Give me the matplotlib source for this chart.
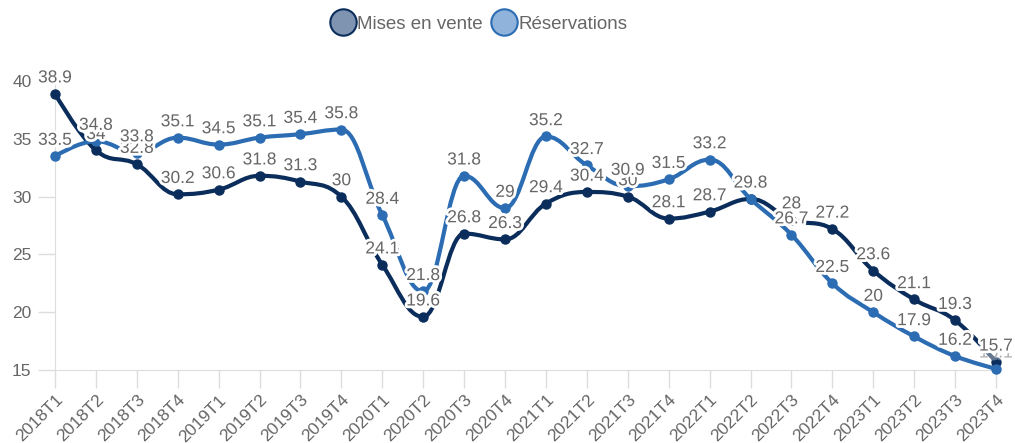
import matplotlib
matplotlib.use('Agg')
import matplotlib.pyplot as plt
import matplotlib.patheffects as pe
from matplotlib.path import Path
from matplotlib.patches import PathPatch
from matplotlib.lines import Line2D
import numpy as np

plt.rcParams['font.family'] = ['Liberation Sans', 'DejaVu Sans']

quarters = ['2018T1', '2018T2', '2018T3', '2018T4', '2019T1', '2019T2', '2019T3', '2019T4',
            '2020T1', '2020T2', '2020T3', '2020T4', '2021T1', '2021T2', '2021T3', '2021T4',
            '2022T1', '2022T2', '2022T3', '2022T4', '2023T1', '2023T2', '2023T3', '2023T4']
mises_en_vente = [38.9, 34, 32.8, 30.2, 30.6, 31.8, 31.3, 30, 24.1, 19.6, 26.8, 26.3,
                  29.4, 30.4, 30, 28.1, 28.7, 29.8, 28, 27.2, 23.6, 21.1, 19.3, 15.7]
reservations = [33.5, 34.8, 33.8, 35.1, 34.5, 35.1, 35.4, 35.8, 28.4, 21.8, 31.8, 29,
                35.2, 32.7, 30.9, 31.5, 33.2, 29.8, 26.7, 22.5, 20, 17.9, 16.2, 15.1]

NAVY = '#0b2d5b'
BLUE = '#2b6cb3'
GRAY = '#666666'


def spline_path(xs, ys, smoothing=1.5):
    # highcharts-like spline: bezier control points from neighbours
    n = len(xs)
    verts = [(xs[0], ys[0])]
    codes = [Path.MOVETO]
    ctrl = []
    for i in range(n):
        if i == 0 or i == n - 1:
            ctrl.append(None)
            continue
        px, py = xs[i], ys[i]
        lx, ly = xs[i - 1], ys[i - 1]
        nx, ny = xs[i + 1], ys[i + 1]
        d = smoothing + 1
        lcx = (smoothing * px + lx) / d
        lcy = (smoothing * py + ly) / d
        rcx = (smoothing * px + nx) / d
        rcy = (smoothing * py + ny) / d
        corr = ((rcy - lcy) * (rcx - px)) / (rcx - lcx) + py - rcy
        lcy += corr
        rcy += corr
        if lcy > ly and lcy > py:
            lcy = max(ly, py)
            rcy = 2 * py - lcy
        elif lcy < ly and lcy < py:
            lcy = min(ly, py)
            rcy = 2 * py - lcy
        if rcy > ny and rcy > py:
            rcy = max(ny, py)
            lcy = 2 * py - rcy
        elif rcy < ny and rcy < py:
            rcy = min(ny, py)
            lcy = 2 * py - rcy
        ctrl.append(((lcx, lcy), (rcx, rcy)))
    for i in range(1, n):
        c1 = ctrl[i - 1][1] if ctrl[i - 1] else (xs[i - 1], ys[i - 1])
        c2 = ctrl[i][0] if ctrl[i] else (xs[i], ys[i])
        verts += [c1, c2, (xs[i], ys[i])]
        codes += [Path.CURVE4] * 3
    return Path(verts, codes)


fig = plt.figure(figsize=(10.15, 4.43), dpi=100)
ax = fig.add_axes([55 / 1015, 73 / 443, 941 / 1015, 289 / 443])

x = np.arange(len(quarters))
for vals, color, z in [(mises_en_vente, NAVY, 3), (reservations, BLUE, 4)]:
    path = spline_path(list(x.astype(float)), list(vals))
    ax.add_patch(PathPatch(path, facecolor='none', edgecolor=color, lw=3, zorder=z, capstyle='round'))
    ax.plot(x, vals, 'o', color=color, markersize=6.5, markeredgecolor=color,
            markeredgewidth=1, zorder=z + 0.1, clip_on=False)

halo = [pe.withStroke(linewidth=4, foreground=(1, 1, 1, 0.75))]
for vals in (mises_en_vente, reservations):
    for i, (xi, v) in enumerate(zip(x, vals)):
        faint = vals is reservations and i == len(vals) - 1
        ax.annotate(f'{v:g}', (xi, v), xytext=(0, 6), textcoords='offset points',
                    ha='center', va='bottom', fontsize=12.5, color=GRAY,
                    alpha=0.35 if faint else 1,
                    path_effects=halo, zorder=9 if faint else 10, annotation_clip=False)

ax.set_xlim(0, len(quarters) - 1)
ax.set_ylim(15, 40)
ax.set_yticks([15, 20, 25, 30, 35, 40])
ax.set_xticks(x)
ax.set_xticklabels(quarters, rotation=45, ha='right', rotation_mode='anchor')
ax.tick_params(axis='both', colors='#dddddd', labelcolor=GRAY, labelsize=12.5, length=13, width=1)
ax.tick_params(axis='x', pad=3)
ax.tick_params(axis='y', pad=5, length=12)
for s in ['top', 'right']:
    ax.spines[s].set_visible(False)
for s in ['left', 'bottom']:
    ax.spines[s].set_color('#dddddd')

handles = [Line2D([], [], linestyle='none', marker='o', markersize=19,
                  markerfacecolor='#7e94b1', markeredgecolor=NAVY, markeredgewidth=1.5),
           Line2D([], [], linestyle='none', marker='o', markersize=19,
                  markerfacecolor='#8fb3db', markeredgecolor=BLUE, markeredgewidth=1.5)]
fig.legend(handles, ['Mises en vente', 'Réservations'], loc='center', bbox_to_anchor=(0.472, 0.945),
           ncol=2, frameon=False, fontsize=13.5, labelcolor=GRAY, handletextpad=0.1,
           columnspacing=0.5, handlelength=1.3)

fig.savefig('out.png', dpi=100)
